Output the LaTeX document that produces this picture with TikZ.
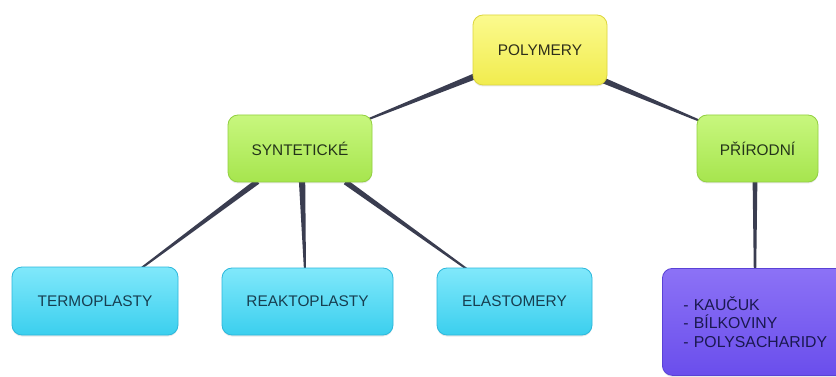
\documentclass[tikz,border=0pt]{standalone}
\usepackage{fontspec}
\setmainfont{Liberation Sans}
\usetikzlibrary{calc,shadows,backgrounds}
\definecolor{conn}{HTML}{3A3D50}
\definecolor{yelT}{HTML}{FBFA8E}
\definecolor{yelB}{HTML}{F1EC4E}
\definecolor{yelD}{HTML}{DCD63C}
\definecolor{grnT}{HTML}{C8F77E}
\definecolor{grnB}{HTML}{A6E54E}
\definecolor{grnD}{HTML}{92D040}
\definecolor{cyaT}{HTML}{80E8FB}
\definecolor{cyaB}{HTML}{3BCFEE}
\definecolor{cyaD}{HTML}{2CB8DC}
\definecolor{purT}{HTML}{8C72F6}
\definecolor{purB}{HTML}{6A4EEC}
\definecolor{purD}{HTML}{5A42D6}
\definecolor{txtY}{HTML}{2E2E1A}
\definecolor{txtG}{HTML}{24341A}
\definecolor{txtC}{HTML}{173E50}
\definecolor{txtP}{HTML}{1A1850}
\newcommand\taper[4]{%
  \fill[conn] ($(#1)!#3!90:(#2)$) -- ($(#1)!#3!-90:(#2)$) --
              ($(#2)!#4!90:(#1)$) -- ($(#2)!#4!-90:(#1)$) -- cycle;}
\tikzset{
  box/.style={draw, line width=0.8pt, rounded corners=10pt, inner sep=0pt,
    font=\fontsize{15.4}{18}\selectfont,
    drop shadow={opacity=0.18, shadow xshift=0pt, shadow yshift=-1.5pt}},
  ybox/.style={box, draw=yelD, top color=yelT, bottom color=yelB, text=txtY},
  gbox/.style={box, draw=grnD, top color=grnT, bottom color=grnB, text=txtG},
  cbox/.style={box, draw=cyaD, top color=cyaT, bottom color=cyaB, text=txtC},
  pbox/.style={box, draw=purD, top color=purT, bottom color=purB, text=txtP}
}
\begin{document}
\begin{tikzpicture}[x=1pt,y=-1pt]
\useasboundingbox (0,0) rectangle (836,377);
\clip (0,0) rectangle (836,377);

\node[ybox, minimum width=134, minimum height=70] (pol) at (540,50) {POLYMERY};
\node[gbox, minimum width=144, minimum height=67] (syn) at (300,148.5) {SYNTETICKÉ};
\node[gbox, minimum width=121, minimum height=67] (pri) at (757.5,148.5) {PŘÍRODNÍ};
\node[cbox, minimum width=166, minimum height=68] (term) at (95,301) {TERMOPLASTY};
\node[cbox, minimum width=171, minimum height=67] (reak) at (307.5,301.5) {REAKTOPLASTY};
\node[cbox, minimum width=155, minimum height=67] (elas) at (514.5,301.5) {ELASTOMERY};
\node[pbox, minimum width=200, minimum height=107, anchor=north west,
      align=left, inner xsep=21pt, text width=158pt,
      font=\fontsize{15.8}{18.5}\selectfont] (pur) at (662,268)
  {- KAUČUK\\- BÍLKOVINY\\- POLYSACHARIDY};

\begin{pgfonlayer}{background}
\fill[white] (0,0) rectangle (836,377);
\coordinate (c1) at ($(pol.south west)+(2,-9)$);
\coordinate (c2) at ($(syn.north east)+(-5,5)$);
\coordinate (c3) at ($(pol.south east)+(-9,-7)$);
\coordinate (c4) at ($(pri.north west)+(5,7)$);
\coordinate (c5) at ($(syn.south west)+(30,-1)$);
\coordinate (c6) at ($(term.north east)+(-37,1.5)$);
\coordinate (c7) at ($(syn.south)+(2,-3)$);
\coordinate (c8) at ($(reak.north)+(-2.5,3)$);
\coordinate (c9) at ($(syn.south east)+(-27,-0.5)$);
\coordinate (c10) at ($(elas.north west)+(31,2)$);
\coordinate (c11) at ($(pri.south)+(-2.5,-3)$);
\coordinate (c12) at ($(pur.north west)+(93,3)$);
\taper{c1}{c2}{3pt}{1pt}
\taper{c3}{c4}{3pt}{1pt}
\taper{c5}{c6}{2.8pt}{1pt}
\taper{c7}{c8}{3.2pt}{1pt}
\taper{c9}{c10}{2.8pt}{1pt}
\taper{c11}{c12}{2.4pt}{1.2pt}
\end{pgfonlayer}
\end{tikzpicture}
\end{document}
